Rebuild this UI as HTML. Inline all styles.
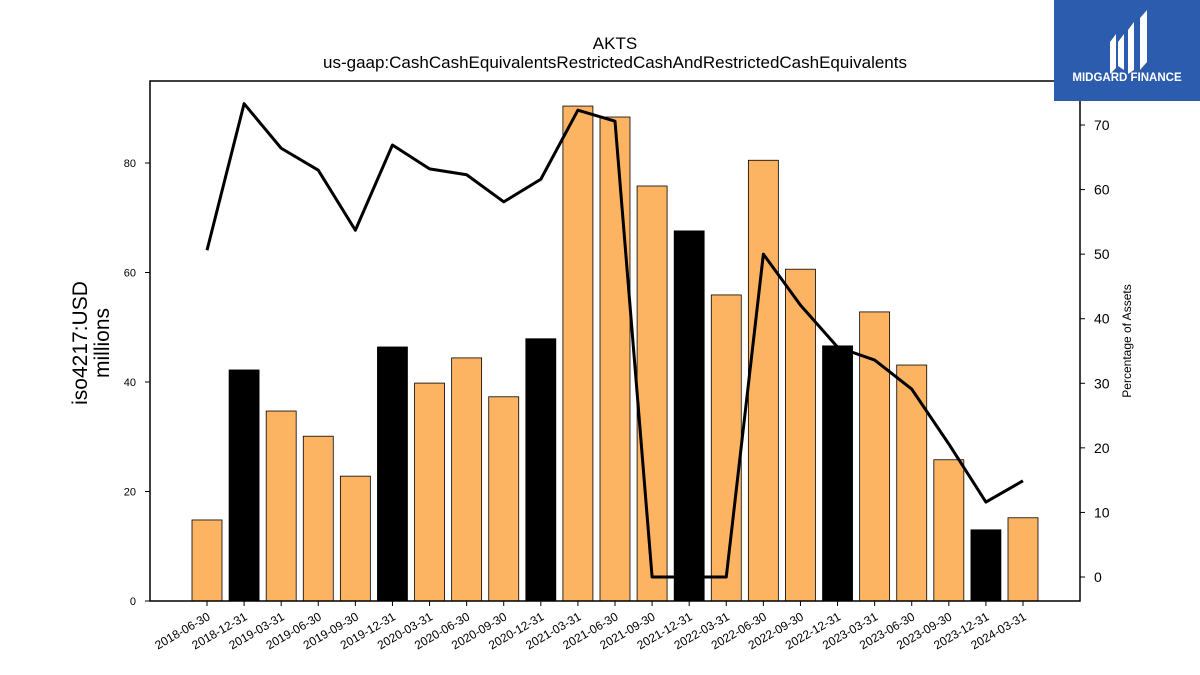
<!DOCTYPE html>
<html><head><meta charset="utf-8"><style>
body{margin:0;background:#fff;font-family:"Liberation Sans","DejaVu Sans",sans-serif}
#wrap{position:relative;width:1200px;height:675px;overflow:hidden}
</style></head><body>
<div id="wrap">
<svg id="chart" width="1200" height="675" style="position:absolute;left:0;top:0"></svg>
<div style="position:absolute;left:1054px;top:0;width:146px;height:101px;background:#2b5cad">
<svg width="146" height="101">
<path d="M56 42 l6 -8 v34 l-6 6z M64 42 l6 -8 v36 l-6 -4z M74 30 l6 -8 v48 l-6 4z M86 18 l7 -8 v52 l-7 8z" fill="#fff"/>
<text x="73" y="81" text-anchor="middle" fill="#fff" font-size="11.5" font-weight="bold" font-family="Liberation Sans, sans-serif">MIDGARD FINANCE</text>
</svg></div>
</div>
<script>
const categories=["2018-06-30","2018-12-31","2019-03-31","2019-06-30","2019-09-30","2019-12-31","2020-03-31","2020-06-30","2020-09-30","2020-12-31","2021-03-31","2021-06-30","2021-09-30","2021-12-31","2022-03-31","2022-06-30","2022-09-30","2022-12-31","2023-03-31","2023-06-30","2023-09-30","2023-12-31","2024-03-31"];
const barValues=[14.8,42.2,34.7,30.1,22.8,46.4,39.8,44.4,37.3,47.9,90.4,88.4,75.8,67.6,55.9,80.5,60.6,46.6,52.8,43.1,25.8,13.0,15.2];
const pctValues=[50.6,73.3,66.4,63.0,53.7,66.9,63.2,62.3,58.1,61.6,72.3,70.6,0,0,0,50.0,42.1,35.6,33.6,29.1,20.6,11.6,14.9];
const leftTicks=[0,20,40,60,80];
const rightTicks=[0,10,20,30,40,50,60,70];
const NS="http://www.w3.org/2000/svg";
const svg=document.getElementById('chart');
const L=150,R=1080,T=81,B=601;
const yL=v=>601-v*5.475;
const yR=v=>577-v*6.457;
const xC=i=>207+i*((1023-207)/(categories.length-1));
function mk(tag,attrs,parent){const e=document.createElementNS(NS,tag);for(const k in attrs)e.setAttribute(k,attrs[k]);(parent||svg).appendChild(e);return e;}
barValues.forEach((v,i)=>{
 const black=categories[i].endsWith('12-31');
 const r=mk('rect',{x:xC(i)-15,y:yL(v),width:30,height:B-yL(v),fill:black?'#000':'#fdb462',stroke:'#000','stroke-width':0.8});
 
 
});
const pts=pctValues.map((v,i)=>xC(i)+','+yR(v)).join(' ');
const line=mk('polyline',{points:pts,fill:'none',stroke:'#000','stroke-width':3,'stroke-linejoin':'round'});


const frame=mk('rect',{x:L,y:T,width:R-L,height:B-T,fill:'none',stroke:'#000','stroke-width':1.5});


leftTicks.forEach(t=>{
 const y=yL(t);
 mk('line',{x1:L-5,x2:L,y1:y,y2:y,stroke:'#000'});
 const tx=mk('text',{x:L-14,y:y+4,'text-anchor':'end','font-size':11});tx.textContent=t;
 
 
});
rightTicks.forEach(t=>{
 const y=yR(t);
 mk('line',{x1:R,x2:R+5,y1:y,y2:y,stroke:'#000'});
 const tx=mk('text',{x:R+14,y:y+5,'font-size':14});tx.textContent=t;
 
 
});
categories.forEach((c,i)=>{
 const x=xC(i);
 mk('line',{x1:x,x2:x,y1:B,y2:B+5,stroke:'#000'});
 const tx=mk('text',{x:x+4,y:B+18,'text-anchor':'end','font-size':12,transform:`rotate(-30 ${x+4} ${B+18})`});tx.textContent=c;
 
 
});
const t1=mk('text',{x:615,y:49,'text-anchor':'middle','font-size':17});t1.textContent='AKTS';


const t2=mk('text',{x:615,y:68,'text-anchor':'middle','font-size':17});t2.textContent='us-gaap:CashCashEquivalentsRestrictedCashAndRestrictedCashEquivalents';


const yt=mk('text',{x:0,y:0,'text-anchor':'middle','font-size':21,transform:'translate(87,343) rotate(-90)'});


const s1=mk('tspan',{x:0,dy:0},yt);s1.textContent='iso4217:USD';
const s2=mk('tspan',{x:0,dy:22},yt);s2.textContent='millions';
const rt=mk('text',{x:0,y:0,'text-anchor':'middle','font-size':12,transform:'translate(1131,341) rotate(-90)'});rt.textContent='Percentage of Assets';


</script>
</body></html>
